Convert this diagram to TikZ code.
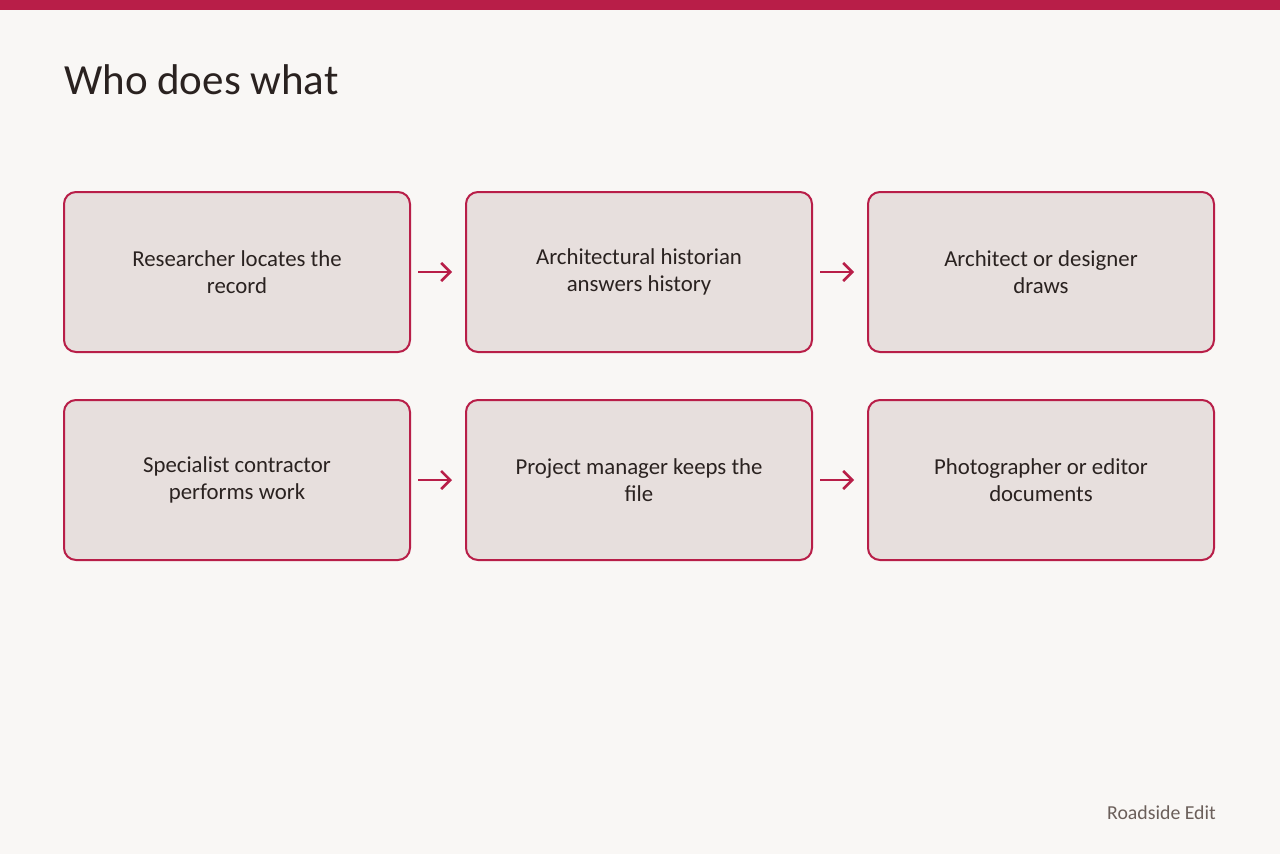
\documentclass[tikz,border=0pt]{standalone}
\usepackage{fontspec}
\setmainfont{Carlito}
\usetikzlibrary{arrows.meta}
\definecolor{bg}{HTML}{F9F7F5}
\definecolor{crim}{HTML}{B81E48}
\definecolor{boxfill}{HTML}{E7DFDD}
\definecolor{ink}{HTML}{2A2220}
\definecolor{foot}{HTML}{6B5F5A}
\begin{document}
\begin{tikzpicture}[x=1pt,y=-1pt,
  card/.style={draw=crim, line width=2pt, fill=boxfill, rounded corners=12pt,
    minimum width=346pt, minimum height=160pt, inner sep=0pt,
    align=center, text=ink, font=\fontsize{22.8}{27}\selectfont,
    execute at begin node={\rule{0pt}{21pt}}},
  flow/.style={draw=crim, line width=2.6pt, -{Straight Barb[length=9pt,width=18pt,line width=2.6pt]}}]
\useasboundingbox (0,0) rectangle (1280,854);
\fill[bg] (0,0) rectangle (1280,854);
\fill[crim] (0,0) rectangle (1280,10);
\node[anchor=base west, text=ink, font=\fontsize{43}{50}\selectfont, inner sep=0pt] (title) at (64,94) {Who does what};
\node[card] (a) at (237,272) {Researcher locates the\\record};
\node[card] (b) at (639,272) {Architectural historian\\answers history};
\node[card] (c) at (1041,272) {Architect or designer\\draws};
\node[card] (d) at (237,480) {Specialist contractor\\performs work};
\node[card] (e) at (639,480) {Project manager keeps the\\file};
\node[card] (f) at (1041,480) {Photographer or editor\\documents};
\draw[flow] ([xshift=7pt]a.east) -- ([xshift=-13pt]b.west);
\draw[flow] ([xshift=7pt]b.east) -- ([xshift=-13pt]c.west);
\draw[flow] ([xshift=7pt]d.east) -- ([xshift=-13pt]e.west);
\draw[flow] ([xshift=7pt]e.east) -- ([xshift=-13pt]f.west);
\node[anchor=base east, text=foot, font=\fontsize{19.8}{24}\selectfont, inner sep=0pt] (brand) at (1216,819) {Roadside Edit};
\end{tikzpicture}
\end{document}
